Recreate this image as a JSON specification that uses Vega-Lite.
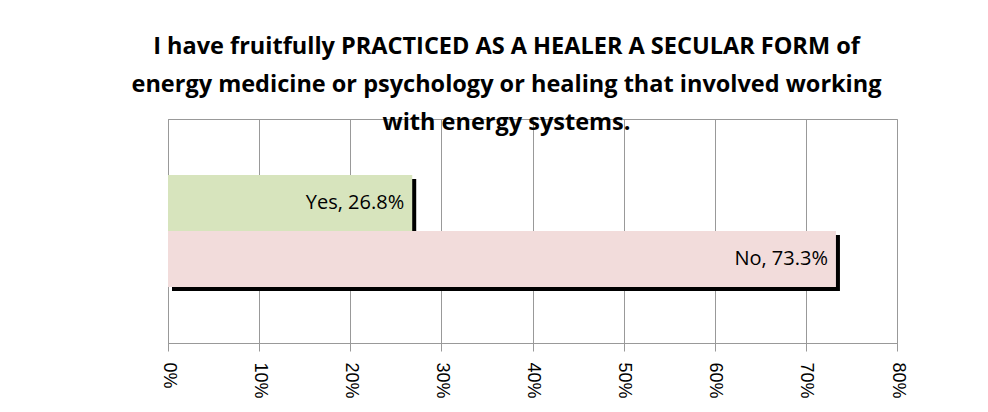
{
  "$schema": "https://vega.github.io/schema/vega-lite/v6.json",
  "width": 729,
  "height": 224,
  "autosize": {"type": "none"},
  "padding": {"left": 168, "top": 119, "right": 91, "bottom": 69},
  "background": "white",
  "title": {
    "text": ["I have fruitfully PRACTICED AS A HEALER A SECULAR FORM of", "energy medicine or psychology or healing that involved working", "with energy systems."],
    "font": "Open Sans",
    "fontSize": 23.5,
    "fontWeight": "bold",
    "lineHeight": 38,
    "color": "black",
    "anchor": "middle",
    "frame": "group",
    "dx": -26,
    "offset": -15
  },
  "data": {
    "values": [
      {"answer": "Yes", "pct": 0.268, "label": "Yes, 26.8%"},
      {"answer": "No", "pct": 0.733, "label": "No, 73.3%"}
    ]
  },
  "encoding": {
    "y": {
      "field": "answer",
      "type": "nominal",
      "sort": ["Yes", "No"],
      "scale": {"paddingInner": 0, "paddingOuter": 1},
      "axis": {"title": null, "labels": false, "ticks": false, "domain": true, "domainColor": "#999", "grid": false}
    },
    "x": {
      "field": "pct",
      "type": "quantitative",
      "scale": {"domain": [0, 0.8], "nice": false},
      "axis": {
        "title": null,
        "values": [0, 0.1, 0.2, 0.3, 0.4, 0.5, 0.6, 0.7, 0.8],
        "format": ".0%",
        "labelAngle": 90,
        "labelFont": "Liberation Sans",
        "labelFontSize": 18,
        "labelColor": "black",
        "labelPadding": 11,
        "tickSize": 8,
        "tickColor": "#999",
        "domainColor": "#999",
        "gridColor": "#999",
        "grid": true
      }
    }
  },
  "layer": [
    {"mark": {"type": "bar", "color": "black", "xOffset": 4, "x2Offset": 4, "yOffset": 4, "y2Offset": 4}},
    {
      "mark": {"type": "bar"},
      "encoding": {
        "color": {"field": "answer", "type": "nominal", "scale": {"domain": ["Yes", "No"], "range": ["#d7e4bd", "#f2dcdb"]}, "legend": null}
      }
    },
    {
      "mark": {"type": "text", "align": "right", "baseline": "middle", "dx": -8, "font": "Open Sans", "fontSize": 20, "color": "black"},
      "encoding": {"text": {"field": "label"}}
    }
  ],
  "config": {"view": {"stroke": "#999"}}
}
